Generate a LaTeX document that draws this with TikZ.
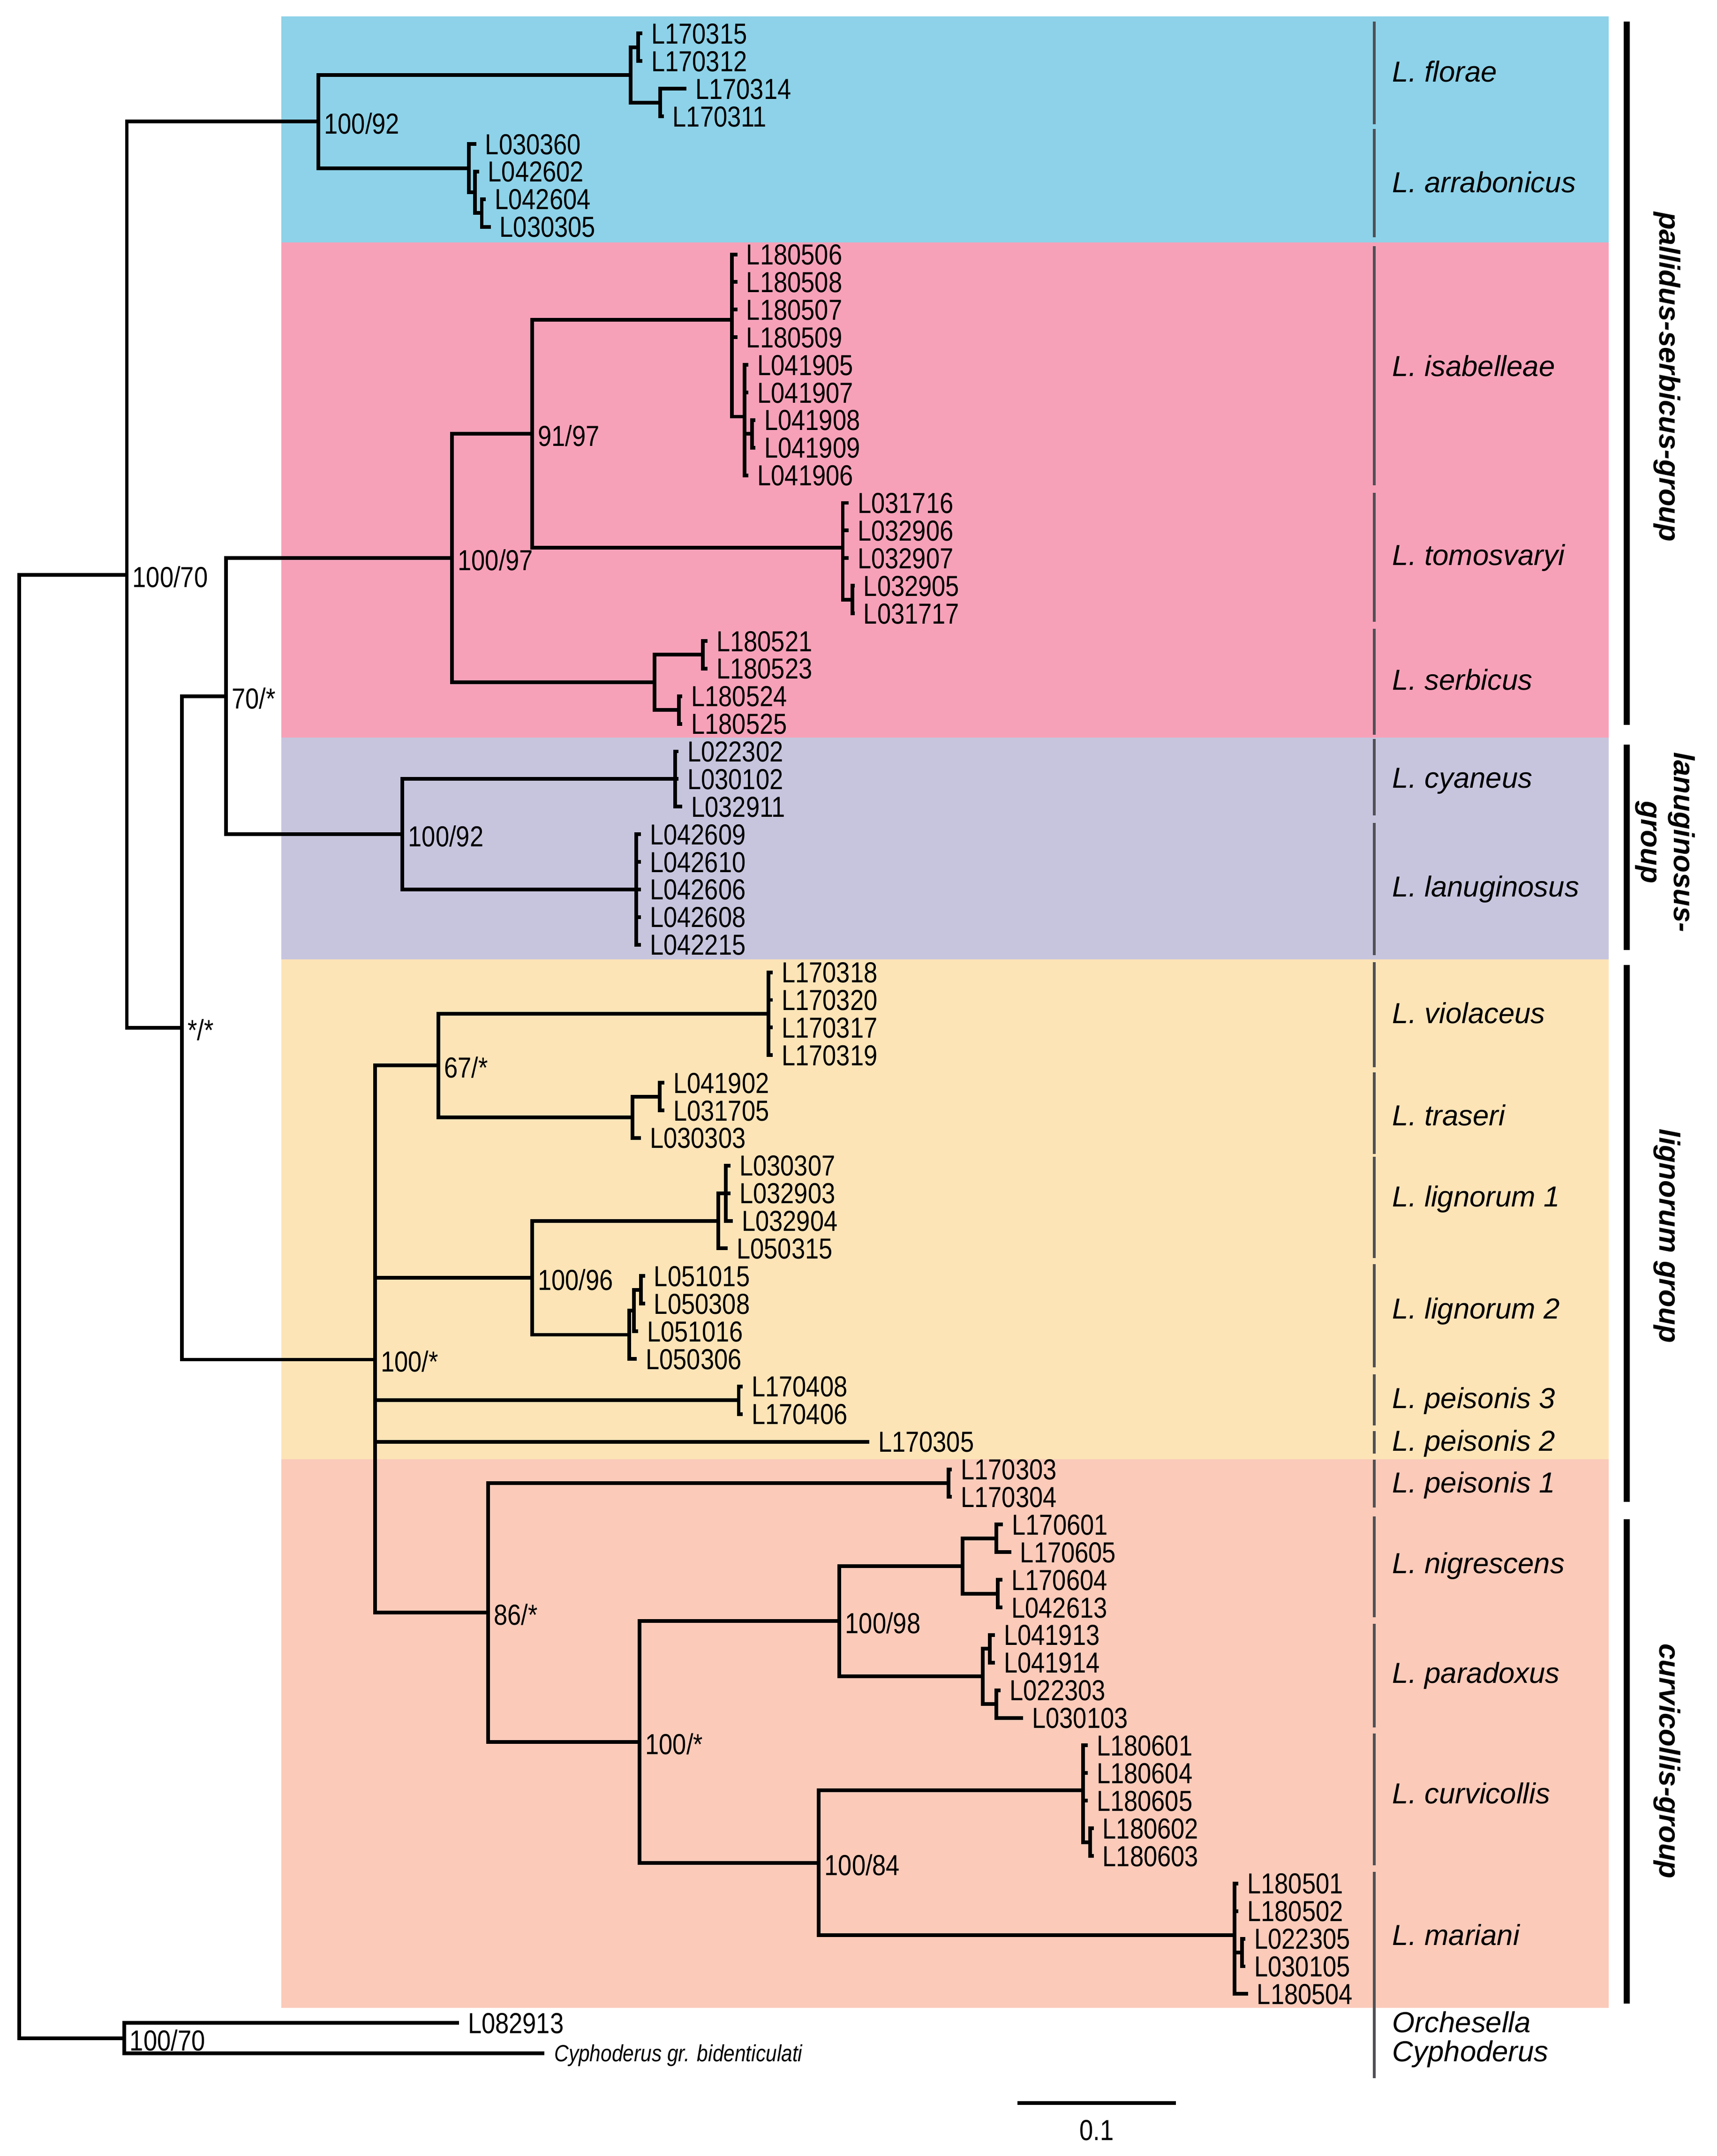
\documentclass[tikz,border=0pt]{standalone}
\usepackage{fontspec}
\setmainfont{Liberation Sans}
\newfontfamily\narrowf[FakeStretch=0.85]{Liberation Sans}
\definecolor{cblue}{RGB}{141,210,232}
\definecolor{cpink}{RGB}{247,161,185}
\definecolor{clav}{RGB}{199,197,222}
\definecolor{cyell}{RGB}{253,228,183}
\definecolor{csalm}{RGB}{251,202,185}
\definecolor{csep}{RGB}{80,80,86}
\newcommand\tipat[4]{\coordinate (#1) at (#2,#3); \node[tiplab] (#1-l) at (#1) {#4};}
\begin{document}
\begin{tikzpicture}[x=1pt,y=-1pt,
  br/.style={line width=2.7pt},
  tiplab/.style={anchor=base west,inner sep=0pt,xshift=6.3pt,yshift=-7.5pt,font=\narrowf\fontsize{21}{24}\selectfont},
  bs/.style={anchor=base west,inner sep=0pt,xshift=4pt,yshift=-9pt,font=\narrowf\fontsize{21}{24}\selectfont},
  sp/.style={anchor=base west,inner sep=0pt,yshift=-7.5pt,font=\itshape\fontsize{21}{24}\selectfont},
  grp/.style={rotate=-90,inner sep=0pt,font=\bfseries\itshape\fontsize{21}{24}\selectfont},
  sepline/.style={line width=2pt,draw=csep},
  gbar/.style={line width=4.4pt}]
\useasboundingbox (0,0) rectangle (1245.3,1564);
% background bands
\fill[cblue] (204,12) rectangle (1167,176);
\fill[cpink] (204,176) rectangle (1167,535);
\fill[clav] (204,535) rectangle (1167,696);
\fill[cyell] (204,696) rectangle (1167,1058.5);
\fill[csalm] (204,1058.5) rectangle (1167,1456.5);
% tips
\tipat{t170315}{466}{24.3}{L170315}
\tipat{t170312}{466}{44.33}{L170312}
\tipat{t170314}{498}{64.36}{L170314}
\tipat{t170311}{481.5}{84.39}{L170311}
\tipat{t030360}{345.5}{104.42}{L030360}
\tipat{t042602}{347.5}{124.45}{L042602}
\tipat{t042604}{352.5}{144.48}{L042604}
\tipat{t030305}{356}{164.51}{L030305}
\tipat{t180506}{535}{184.54}{L180506}
\tipat{t180508}{535}{204.57}{L180508}
\tipat{t180507}{535}{224.6}{L180507}
\tipat{t180509}{535}{244.63}{L180509}
\tipat{t041905}{543}{264.66}{L041905}
\tipat{t041907}{543}{284.69}{L041907}
\tipat{t041908}{548}{304.72}{L041908}
\tipat{t041909}{548}{324.75}{L041909}
\tipat{t041906}{543}{344.78}{L041906}
\tipat{t031716}{615.7}{364.81}{L031716}
\tipat{t032906}{615.7}{384.84}{L032906}
\tipat{t032907}{615.7}{404.87}{L032907}
\tipat{t032905}{620}{424.9}{L032905}
\tipat{t031717}{620}{444.93}{L031717}
\tipat{t180521}{513.3}{464.96}{L180521}
\tipat{t180523}{513.3}{484.99}{L180523}
\tipat{t180524}{495}{505.02}{L180524}
\tipat{t180525}{495}{525.05}{L180525}
\tipat{t022302}{492.2}{545.08}{L022302}
\tipat{t030102}{492.2}{565.11}{L030102}
\tipat{t032911}{495}{585.14}{L032911}
\tipat{t042609}{465}{605.17}{L042609}
\tipat{t042610}{465}{625.2}{L042610}
\tipat{t042606}{465}{645.23}{L042606}
\tipat{t042608}{465}{665.26}{L042608}
\tipat{t042215}{465}{685.29}{L042215}
\tipat{t170318}{560.6}{705.32}{L170318}
\tipat{t170320}{560.6}{725.35}{L170320}
\tipat{t170317}{560.6}{745.38}{L170317}
\tipat{t170319}{560.6}{765.41}{L170319}
\tipat{t041902}{482}{785.44}{L041902}
\tipat{t031705}{482}{805.47}{L031705}
\tipat{t030303}{465}{825.5}{L030303}
\tipat{t030307}{530}{845.53}{L030307}
\tipat{t032903}{530}{865.56}{L032903}
\tipat{t032904}{531.7}{885.59}{L032904}
\tipat{t050315}{528}{905.62}{L050315}
\tipat{t051015}{468}{925.65}{L051015}
\tipat{t050308}{468}{945.68}{L050308}
\tipat{t051016}{463}{965.71}{L051016}
\tipat{t050306}{462}{985.74}{L050306}
\tipat{t170408}{538.8}{1005.77}{L170408}
\tipat{t170406}{538.8}{1025.8}{L170406}
\tipat{t170305}{630.6}{1045.83}{L170305}
\tipat{t170303}{690.6}{1065.86}{L170303}
\tipat{t170304}{690.6}{1085.89}{L170304}
\tipat{t170601}{727.7}{1105.92}{L170601}
\tipat{t170605}{733.6}{1125.95}{L170605}
\tipat{t170604}{727.3}{1145.98}{L170604}
\tipat{t042613}{727.3}{1166.01}{L042613}
\tipat{t041913}{721.8}{1186.04}{L041913}
\tipat{t041914}{721.8}{1206.07}{L041914}
\tipat{t022303}{726}{1226.1}{L022303}
\tipat{t030103}{742.3}{1246.13}{L030103}
\tipat{t180601}{789.1}{1266.16}{L180601}
\tipat{t180604}{789.1}{1286.19}{L180604}
\tipat{t180605}{789.1}{1306.22}{L180605}
\tipat{t180602}{793.4}{1326.25}{L180602}
\tipat{t180603}{793.4}{1346.28}{L180603}
\tipat{t180501}{898.4}{1366.31}{L180501}
\tipat{t180502}{898.4}{1386.34}{L180502}
\tipat{t022305}{903.5}{1406.37}{L022305}
\tipat{t030105}{903.5}{1426.4}{L030105}
\tipat{t180504}{905.4}{1446.43}{L180504}
\tipat{t082913}{333}{1467.5}{L082913}
\coordinate (tcyph) at (395,1489.5);
\node[anchor=base west,inner sep=0pt,xshift=7pt,yshift=-6pt,font=\narrowf\itshape\fontsize{17}{19}\selectfont] (tcyph-l) at (tcyph) {Cyphoderus gr. bidenticulati};
% internal nodes
\coordinate (root) at (14,947.7);
\coordinate (n10070) at (92,416.9);
\coordinate (nb) at (231,88.15);
\coordinate (F) at (457.4,54.35);
\coordinate (Fa) at (463,34.32);
\coordinate (Fb) at (479,74.38);
\coordinate (A) at (340,121.95);
\coordinate (A1) at (344.5,139.47);
\coordinate (A2) at (349.5,154.5);
\coordinate (nss) at (132,745.64);
\coordinate (n70) at (164,505.03);
\coordinate (n10097) at (328,404.88);
\coordinate (n9197) at (386,314.74);
\coordinate (I) at (531,232.11);
\coordinate (B) at (540,302.22);
\coordinate (B2) at (545.6,314.74);
\coordinate (T) at (611.4,397.36);
\coordinate (T2) at (618.3,434.92);
\coordinate (S) at (475,495.01);
\coordinate (S1) at (509.8,474.98);
\coordinate (S2) at (492.5,515.04);
\coordinate (n10092) at (292,605.17);
\coordinate (C) at (489.7,565.11);
\coordinate (L) at (461.7,645.23);
\coordinate (n100a) at (272,986.24);
\coordinate (n67) at (318,772.92);
\coordinate (V) at (557.6,735.37);
\coordinate (Tr) at (458.9,810.48);
\coordinate (Tr1) at (478.6,795.46);
\coordinate (n10096) at (386,926.9);
\coordinate (L1) at (521,885.59);
\coordinate (L1a) at (526.5,865.56);
\coordinate (L2) at (456.5,968.21);
\coordinate (L2a) at (460,950.69);
\coordinate (L2b) at (465,935.67);
\coordinate (P3) at (535.9,1015.79);
\coordinate (n86) at (354,1169.77);
\coordinate (P1) at (688,1075.88);
\coordinate (n100b) at (464,1263.66);
\coordinate (n10098) at (609,1176.03);
\coordinate (N) at (698.4,1135.97);
\coordinate (Na) at (722.8,1115.94);
\coordinate (Nb) at (723.8,1156.0);
\coordinate (Pa) at (713,1216.09);
\coordinate (Paa) at (718,1196.06);
\coordinate (Pab) at (722.8,1236.12);
\coordinate (n10084) at (594,1351.29);
\coordinate (Cu) at (785.6,1298.71);
\coordinate (Cu2) at (790.8,1336.27);
\coordinate (M) at (895.5,1403.87);
\coordinate (M2) at (901,1416.39);
\coordinate (og) at (90,1478.5);
% branches
\foreach \p/\c in {root/n10070,root/og,n10070/nb,n10070/nss,nb/F,nb/A,F/Fa,F/Fb,
  Fa/t170315,Fa/t170312,Fb/t170314,Fb/t170311,A/t030360,A/A1,A1/t042602,A1/A2,A2/t042604,A2/t030305,
  nss/n70,nss/n100a,n70/n10097,n70/n10092,n10097/n9197,n10097/S,n9197/I,n9197/T,
  I/t180506,I/t180508,I/t180507,I/t180509,I/B,B/t041905,B/t041907,B/B2,B/t041906,B2/t041908,B2/t041909,
  T/t031716,T/t032906,T/t032907,T/T2,T2/t032905,T2/t031717,S/S1,S/S2,S1/t180521,S1/t180523,S2/t180524,S2/t180525,
  n10092/C,n10092/L,C/t022302,C/t030102,C/t032911,L/t042609,L/t042610,L/t042606,L/t042608,L/t042215,
  n100a/n67,n100a/n10096,n100a/P3,n100a/t170305,n100a/n86,n67/V,n67/Tr,
  V/t170318,V/t170320,V/t170317,V/t170319,Tr/Tr1,Tr/t030303,Tr1/t041902,Tr1/t031705,
  n10096/L1,n10096/L2,L1/L1a,L1/t050315,L1a/t030307,L1a/t032903,L1a/t032904,
  L2/L2a,L2/t050306,L2a/L2b,L2a/t051016,L2b/t051015,L2b/t050308,P3/t170408,P3/t170406,
  n86/P1,n86/n100b,P1/t170303,P1/t170304,n100b/n10098,n100b/n10084,n10098/N,n10098/Pa,
  N/Na,N/Nb,Na/t170601,Na/t170605,Nb/t170604,Nb/t042613,Pa/Paa,Pa/Pab,Paa/t041913,Paa/t041914,
  Pab/t022303,Pab/t030103,n10084/Cu,n10084/M,Cu/t180601,Cu/t180604,Cu/t180605,Cu/Cu2,
  Cu2/t180602,Cu2/t180603,M/t180501,M/t180502,M/M2,M/t180504,M2/t022305,M2/t030105,
  og/t082913,og/tcyph}
  \draw[br] (\p) |- (\c);
% support values
\node[bs] (b1) at (n10070) {100/70};
\node[bs] (b2) at (nb) {100/92};
\node[bs] (b3) at (nss) {*/*};
\node[bs] (b4) at (n70) {70/*};
\node[bs] (b5) at (n10097) {100/97};
\node[bs] (b6) at (n9197) {91/97};
\node[bs] (b7) at (n10092) {100/92};
\node[bs] (b8) at (n100a) {100/*};
\node[bs] (b9) at (n67) {67/*};
\node[bs] (b10) at (n10096) {100/96};
\node[bs] (b11) at (n86) {86/*};
\node[bs] (b12) at (n100b) {100/*};
\node[bs] (b13) at (n10098) {100/98};
\node[bs] (b14) at (n10084) {100/84};
\node[bs] (b15) at (og) {100/70};
% species separators
\foreach \a/\b [count=\i] in {15.6/90,93.6/172,178.6/352,357.5/451,456/533,536/591.5,597/693,698/774,778/837,
  839/912.6,917/992,997/1034,1038/1054.5,1059/1093.5,1100/1173,1178/1253,1257.5/1353,1358/1507.5}
  {\coordinate (sa\i) at (997,\a); \coordinate (sb\i) at (997,\b); \draw[sepline] (sa\i) -- (sb\i);}
% species names
\node[sp] (s1) at (1010,52) {L. florae};
\node[sp] (s2) at (1010,132) {L. arrabonicus};
\node[sp] (s3) at (1010,265.6) {L. isabelleae};
\node[sp] (s4) at (1010,402.6) {L. tomosvaryi};
\node[sp] (s5) at (1010,493) {L. serbicus};
\node[sp] (s6) at (1010,564) {L. cyaneus};
\node[sp] (s7) at (1010,643) {L. lanuginosus};
\node[sp] (s8) at (1010,735) {L. violaceus};
\node[sp] (s9) at (1010,809) {L. traseri};
\node[sp] (s10) at (1010,868) {L. lignorum 1};
\node[sp] (s11) at (1010,949) {L. lignorum 2};
\node[sp] (s12) at (1010,1014) {L. peisonis 3};
\node[sp] (s13) at (1010,1045) {L. peisonis 2};
\node[sp] (s14) at (1010,1075.5) {L. peisonis 1};
\node[sp] (s15) at (1010,1134) {L. nigrescens};
\node[sp] (s16) at (1010,1213.6) {L. paradoxus};
\node[sp] (s17) at (1010,1301) {L. curvicollis};
\node[sp] (s18) at (1010,1403.6) {L. mariani};
\node[sp] (s19) at (1010,1467) {Orchesella};
\node[sp] (s20) at (1010,1488) {Cyphoderus};
% group bars
\coordinate (ga1) at (1180,15.6); \coordinate (gb1) at (1180,526);
\coordinate (ga2) at (1180,540); \coordinate (gb2) at (1180,689);
\coordinate (ga3) at (1180,700); \coordinate (gb3) at (1180,1089.5);
\coordinate (ga4) at (1180,1102); \coordinate (gb4) at (1180,1453.5);
\draw[gbar] (ga1) -- (gb1);
\draw[gbar] (ga2) -- (gb2);
\draw[gbar] (ga3) -- (gb3);
\draw[gbar] (ga4) -- (gb4);
\node[grp] (g1) at (1209.5,273.4) {pallidus-serbicus-group};
\node[grp,align=center] (g2) at (1208,611) {lanuginosus-\\group};
\node[grp] (g3) at (1209.5,896.6) {lignorum group};
\node[grp] (g4) at (1209.5,1277.6) {curvicollis-group};
% scale bar
\coordinate (sc1) at (738,1525.5);
\coordinate (sc2) at (853,1525.5);
\draw[line width=2.6pt] (sc1) -- (sc2);
\node[anchor=base,inner sep=0pt,yshift=-7.5pt,font=\narrowf\fontsize{21}{24}\selectfont] (sclab) at (795.5,1545) {0.1};
\end{tikzpicture}
\end{document}
